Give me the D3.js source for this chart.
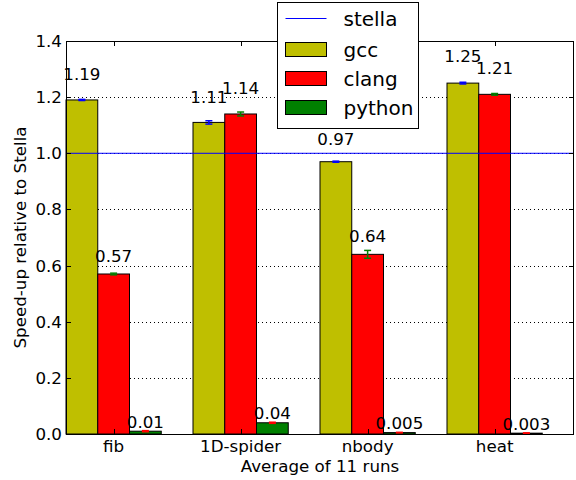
<!DOCTYPE html>
<html>
<head>
<meta charset="utf-8">
<script src="https://cdn.jsdelivr.net/npm/d3@7"></script>
<style>
  body { margin: 0; background: #fff; }
  text { font-family: "DejaVu Sans", sans-serif; fill: #000; }
</style>
</head>
<body>
<script>
// data
var benchmarks = ["fib", "1D-spider", "nbody", "heat"];
var seriesNames = ["gcc", "clang", "python"];
var gcc = [1.19, 1.11, 0.97, 1.25];
var clang = [0.57, 1.14, 0.64, 1.21];
var python = [0.01, 0.04, 0.005, 0.003];
var gccErr = [0.002, 0.006, 0.002, 0.003];
var clangErr = [0.003, 0.007, 0.014, 0.003];
var pythonErr = [0.002, 0.002, 0.001, 0.001];
var stella = 1.0;
var yTicks = [0.0, 0.2, 0.4, 0.6, 0.8, 1.0, 1.2, 1.4];

var barColors = ["#bfbf00", "#ff0000", "#008000"];
var errColors = ["#0000ff", "#008000", "#ff0000"];

// set the dimensions and margins of the graph
var margin = {top: 41, right: 2, bottom: 46, left: 66},
    width = 576 - margin.left - margin.right,
    height = 480 - margin.top - margin.bottom;

var barW = 0.25;

var x = d3.scaleLinear().domain([0, benchmarks.length]).range([0, width]);
var y = d3.scaleLinear().domain([0, 1.4]).range([height, 0]);

var svg = d3.select("body").append("svg")
    .attr("width", 576)
    .attr("height", 480);

var g = svg.append("g")
    .attr("transform", "translate(" + margin.left + "," + margin.top + ")");

// y grid (dotted)
g.selectAll(".grid")
    .data(yTicks)
  .enter().append("line")
    .attr("x1", 0).attr("x2", width)
    .attr("y1", d => Math.round(y(d)) + 0.5)
    .attr("y2", d => Math.round(y(d)) + 0.5)
    .attr("stroke", "#000")
    .attr("stroke-width", 1)
    .attr("stroke-dasharray", "1,3");

// bars
var series = [gcc, clang, python];
var errs = [gccErr, clangErr, pythonErr];

series.forEach(function(vals, s) {
  g.selectAll(".bar" + s)
      .data(vals)
    .enter().append("rect")
      .attr("x", (d, i) => x(i + s * barW))
      .attr("width", x(barW) - x(0))
      .attr("y", d => y(d))
      .attr("height", d => y(0) - y(d))
      .attr("fill", barColors[s])
      .attr("stroke", "#000")
      .attr("stroke-width", 1);
});

// stella reference line
g.append("line")
    .attr("x1", 0).attr("x2", width)
    .attr("y1", y(stella)).attr("y2", y(stella))
    .attr("stroke", "#0000ff")
    .attr("stroke-width", 1);

// error bars
series.forEach(function(vals, s) {
  vals.forEach(function(v, i) {
    var cx = x(i + s * barW + barW / 2);
    var e = errs[s][i];
    g.append("line")
        .attr("x1", cx).attr("x2", cx)
        .attr("y1", y(v - e)).attr("y2", y(v + e))
        .attr("stroke", errColors[s]).attr("stroke-width", 1.5);
    [v - e, v + e].forEach(function(c) {
      g.append("line")
          .attr("x1", cx - 3.5).attr("x2", cx + 3.5)
          .attr("y1", y(c)).attr("y2", y(c))
          .attr("stroke", errColors[s]).attr("stroke-width", 1.5);
    });
  });
});

// value labels
series.forEach(function(vals, s) {
  g.selectAll(".lab" + s)
      .data(vals)
    .enter().append("text")
      .attr("x", (d, i) => x(i + s * barW + barW / 2))
      .attr("y", d => y(1.05 * d) - 3.5)
      .attr("text-anchor", "middle")
      .style("font-size", "16.7px")
      .text(d => String(d));
});

// frame
g.append("rect")
    .attr("x", 0.5).attr("y", 0.5)
    .attr("width", width - 1).attr("height", height)
    .attr("fill", "none")
    .attr("stroke", "#000")
    .attr("stroke-width", 1);

// x ticks (inward, top and bottom)
var xt = benchmarks.map((b, i) => i + 1.5 * barW);
xt.forEach(function(t) {
  var px = Math.round(x(t)) + 0.5;
  g.append("line").attr("x1", px).attr("x2", px)
      .attr("y1", height).attr("y2", height - 5).attr("stroke", "#000");
  g.append("line").attr("x1", px).attr("x2", px)
      .attr("y1", 0).attr("y2", 5).attr("stroke", "#000");
});
g.selectAll(".xlab")
    .data(benchmarks)
  .enter().append("text")
    .attr("x", (d, i) => x(xt[i]))
    .attr("y", height + 18)
    .attr("text-anchor", "middle")
    .style("font-size", "16.7px")
    .text(d => d);

// y ticks (inward, left and right)
yTicks.forEach(function(t) {
  var py = Math.round(y(t)) + 0.5;
  g.append("line").attr("x1", 0).attr("x2", 5)
      .attr("y1", py).attr("y2", py).attr("stroke", "#000");
  g.append("line").attr("x1", width).attr("x2", width - 5)
      .attr("y1", py).attr("y2", py).attr("stroke", "#000");
});
g.selectAll(".ylab")
    .data(yTicks)
  .enter().append("text")
    .attr("x", -4)
    .attr("y", d => y(d) + 6)
    .attr("text-anchor", "end")
    .style("font-size", "16.7px")
    .text(d => d.toFixed(1));

// axis labels
g.append("text")
    .attr("transform", "rotate(-90)")
    .attr("x", -(height / 2))
    .attr("y", -40)
    .attr("text-anchor", "middle")
    .style("font-size", "16.7px")
    .text("Speed-up relative to Stella");

g.append("text")
    .attr("x", width / 2)
    .attr("y", height + 38)
    .attr("text-anchor", "middle")
    .style("font-size", "16.7px")
    .text("Average of 11 runs");

// legend
var legend = svg.append("g").attr("transform", "translate(277.5,2.5)");
legend.append("rect")
    .attr("width", 141).attr("height", 126)
    .attr("fill", "#fff").attr("stroke", "#000");
legend.append("line")
    .attr("x1", 8).attr("x2", 49)
    .attr("y1", 16).attr("y2", 16)
    .attr("stroke", "#0000ff");
legend.append("text")
    .attr("x", 66).attr("y", 23)
    .style("font-size", "20px")
    .text("stella");
seriesNames.forEach(function(n, s) {
  var ly = 47 + s * 29;
  legend.append("rect")
      .attr("x", 8).attr("y", ly - 7)
      .attr("width", 41).attr("height", 14)
      .attr("fill", barColors[s]).attr("stroke", "#000");
  legend.append("text")
      .attr("x", 66).attr("y", ly + 7)
      .style("font-size", "20px")
      .text(n);
});
</script>
</body>
</html>
